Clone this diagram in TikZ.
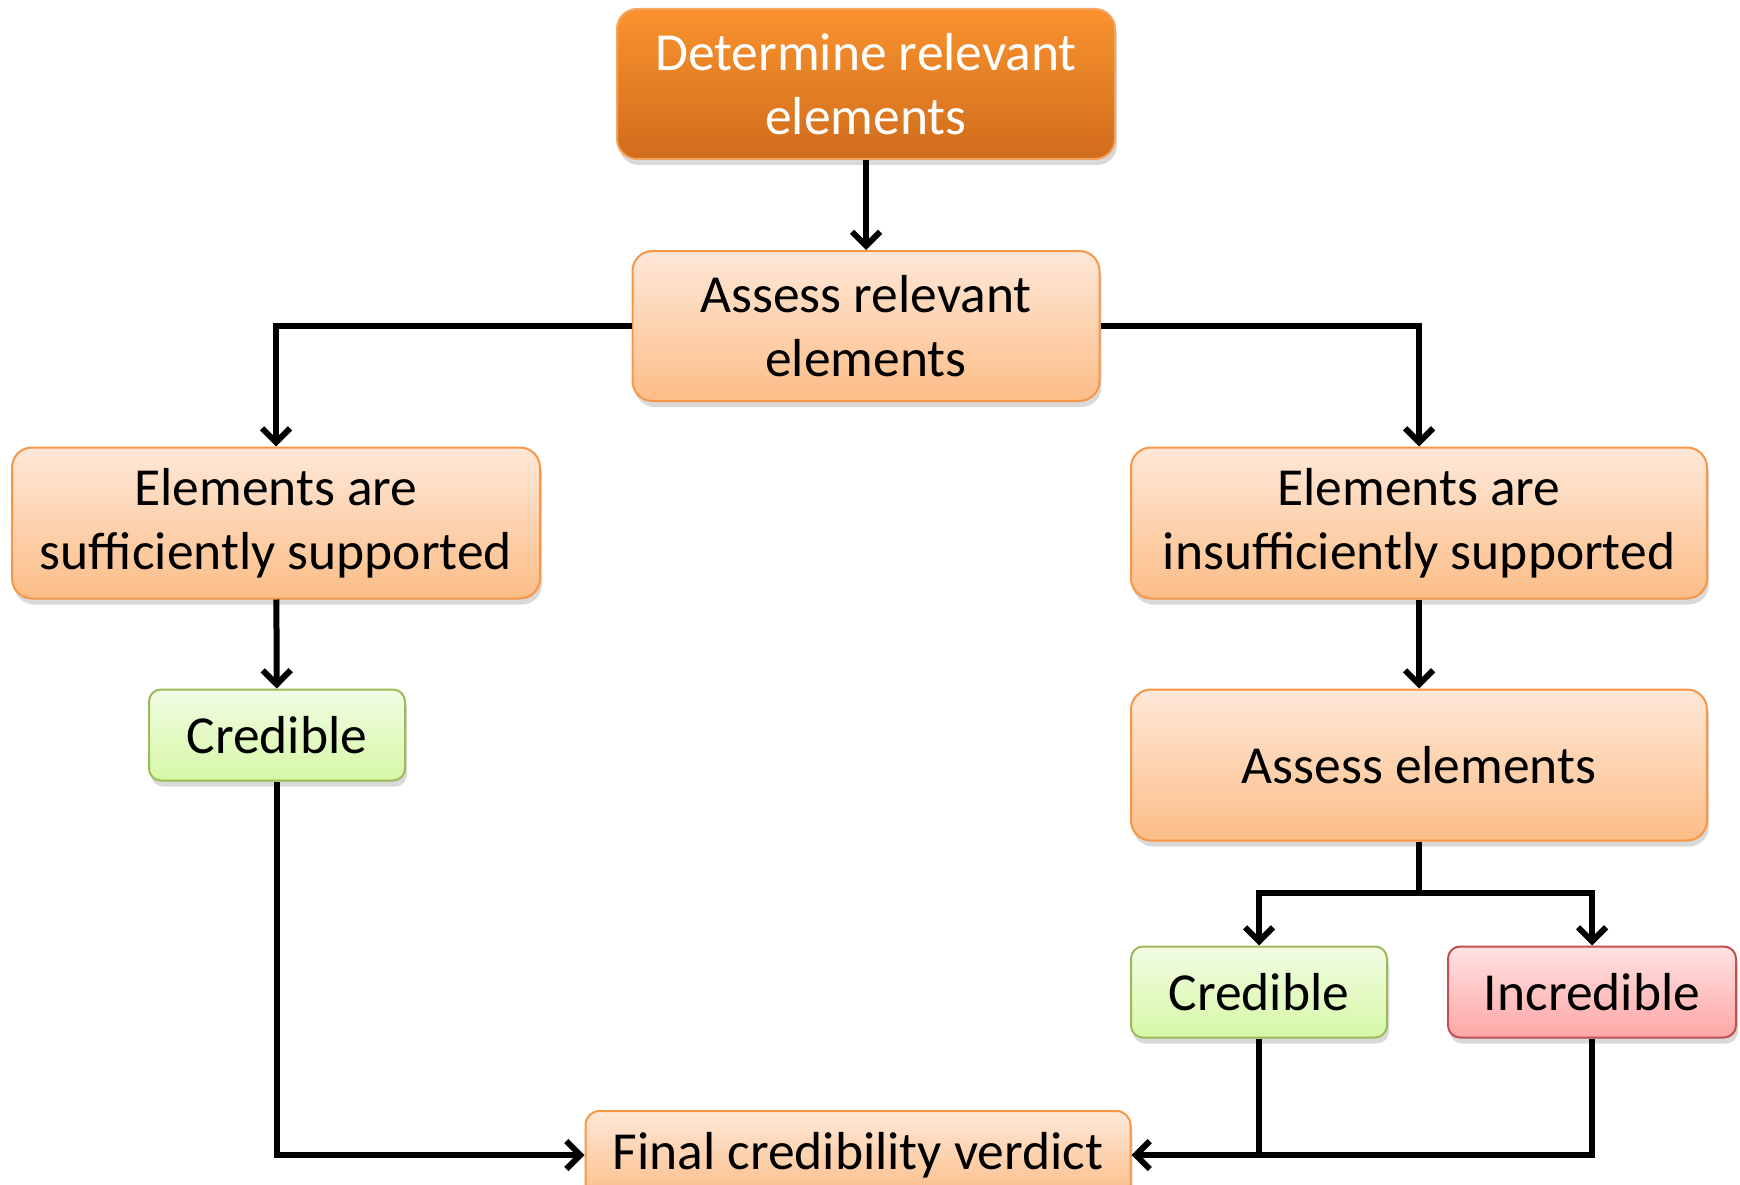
\documentclass[tikz,border=0pt]{standalone}
\usepackage{fontspec}
\setmainfont{Carlito}
\usetikzlibrary{arrows.meta,shadows,calc}
\definecolor{orangeA}{HTML}{F9922E}
\definecolor{orangeB}{HTML}{D06D1C}
\definecolor{orangeedge}{HTML}{F4A460}
\definecolor{peachA}{HTML}{FEE8D8}
\definecolor{peachB}{HTML}{FCBD87}
\definecolor{peachedge}{HTML}{F79646}
\definecolor{greenA}{HTML}{F2FCE4}
\definecolor{greenB}{HTML}{D6F8A6}
\definecolor{greenedge}{HTML}{9BBB59}
\definecolor{redA}{HTML}{FFE2E2}
\definecolor{redB}{HTML}{FFA6A6}
\definecolor{rededge}{HTML}{C0504D}
\begin{document}
\begin{tikzpicture}[x=1pt,y=-1pt,
  box/.style={rounded corners=20pt, line width=2pt, align=center, inner sep=0pt,
    font=\fontsize{53.5}{64}\selectfont,
    drop shadow={shadow xshift=2pt, shadow yshift=-6pt, opacity=0.3}},
  headbox/.style={box, draw=orangeedge, top color=orangeA, bottom color=orangeB, text=white},
  stepbox/.style={box, draw=peachedge, top color=peachA, bottom color=peachB},
  goodbox/.style={box, rounded corners=12pt, draw=greenedge, top color=greenA, bottom color=greenB},
  badbox/.style={box, rounded corners=12pt, draw=rededge, top color=redA, bottom color=redB},
  link/.style={line width=6pt, -{Straight Barb[length=14pt,width=28pt]}},
  wire/.style={line width=6pt}]
\useasboundingbox (0,0) rectangle (1740,1185);

% process boxes
\node[headbox, minimum width=498pt, minimum height=150pt] (D) at (866,84) {Determine relevant\\elements};
\node[stepbox, minimum width=467pt, minimum height=150pt] (A) at (866,326) {Assess relevant\\elements};
\node[stepbox, minimum width=528pt, minimum height=151pt] (L) at (276,523) {Elements are\\sufficiently supported};
\node[stepbox, minimum width=576pt, minimum height=151pt] (R) at (1419,523) {Elements are\\insufficiently supported};
\node[goodbox, minimum width=256pt, minimum height=91pt] (CL) at (277,735) {Credible};
\node[stepbox, minimum width=576pt, minimum height=151pt] (AE) at (1419,765) {Assess elements};
\node[goodbox, minimum width=256pt, minimum height=91pt] (CR) at (1259,992) {Credible};
\node[badbox, minimum width=288pt, minimum height=91pt] (I) at (1592,992) {Incredible};
\node[stepbox, rounded corners=14pt, minimum width=545pt, minimum height=88pt] (F) at (858,1155) {Final credibility verdict};

% connectors
\draw[link] (D) -- (A);
\draw[link] (A.west) -| (L.north);
\draw[link] (A.east) -| (R.north);
\draw[link] (L) -- (CL);
\draw[link] (R) -- (AE);
\coordinate (split) at ($(AE.south)+(0,51)$);
\draw[wire] (AE.south) -- (split);
\draw[link] (split) -| (CR.north);
\draw[link] (split) -| (I.north);
\draw[link] (CL.south) |- (F.west);
\draw[wire] (CR.south) -- (CR.south |- F.east);
\draw[link] (I.south) |- (F.east);
\end{tikzpicture}
\end{document}
